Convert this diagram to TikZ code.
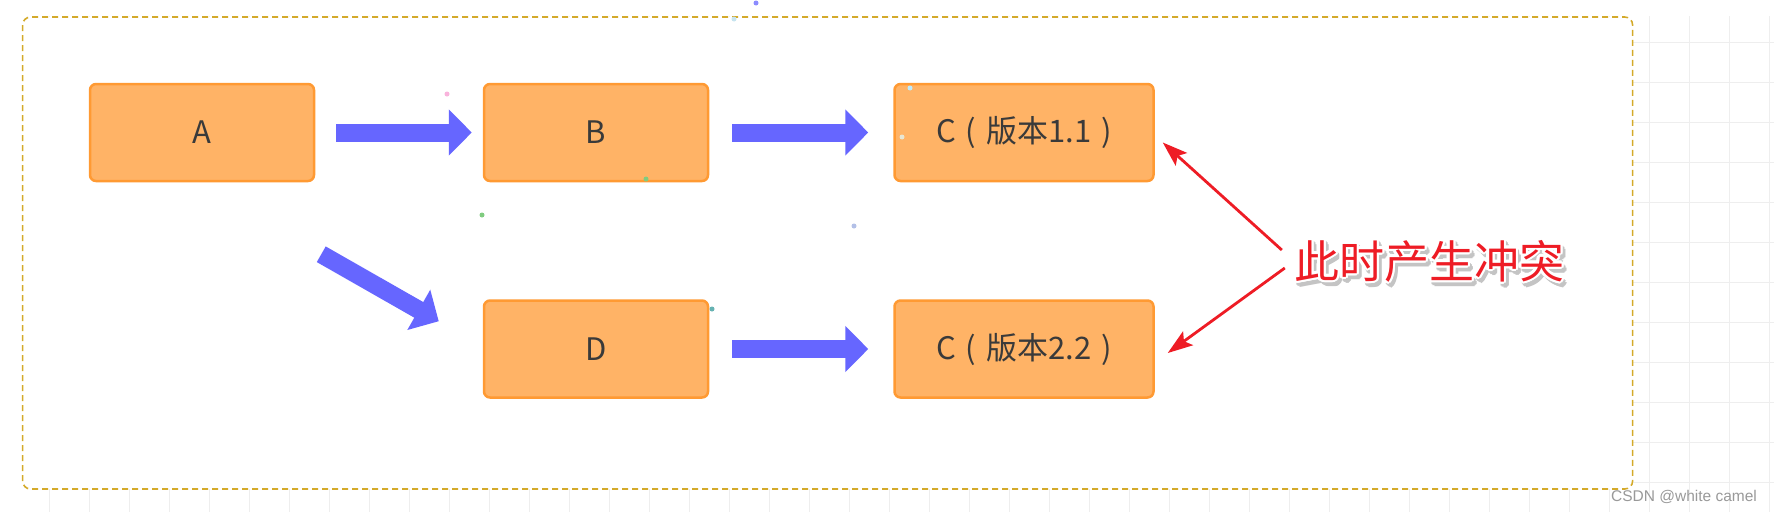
\documentclass[tikz,border=0pt]{standalone}
\usepackage{fontspec}
\setmainfont{Noto Sans CJK SC}
\newfontfamily\wmfont{Liberation Sans}
\usetikzlibrary{arrows.meta,calc}
\definecolor{boxfill}{HTML}{FFB366}
\definecolor{boxdraw}{HTML}{FF9A33}
\definecolor{blueA}{HTML}{6666FF}
\definecolor{redA}{HTML}{EE1C25}
\definecolor{frameC}{HTML}{D4AA2A}
\definecolor{gridC}{HTML}{EEEEEE}
\definecolor{txtC}{HTML}{3A3A3A}
\definecolor{shadowC}{HTML}{C4C4C4}
\newcommand{\pgap}{\hspace{10pt}}
\begin{document}
\begin{tikzpicture}[x=1pt,y=-1pt,
  box/.style={draw=boxdraw, fill=boxfill, line width=2.5pt, rounded corners=6pt,
    minimum width=224pt, minimum height=97pt, text=txtC, inner sep=0pt,
    font=\fontsize{31}{36}\selectfont},
  widebox/.style={box, minimum width=259pt},
  bigarrow/.style={draw=blueA, line width=18pt, -{Triangle[length=23pt,width=45pt]}},
  redarrow/.style={draw=redA, line width=2.8pt, -{Stealth[length=25pt,width=17pt,inset=5pt]}},
  conflict/.style={inner sep=0pt, font=\fontsize{45}{50}\selectfont},
  dot/.style={circle, inner sep=0pt, minimum size=5pt},
]
\useasboundingbox (0,0) rectangle (1774,512);
\fill[white] (0,0) rectangle (1774,512);
% background grid
\begin{scope}
  \clip (29,16) rectangle (1774,512);
  \foreach \x in {49,89,...,1769} \draw[gridC, line width=1pt] (\x,16) -- (\x,512);
  \foreach \y in {42,82,...,482} \draw[gridC, line width=1pt] (29,\y) -- (1774,\y);
\end{scope}
% frame
\fill[white, rounded corners=8pt] (22.6,17) rectangle (1632.6,489);
\draw[frameC, line width=1.6pt, dash pattern=on 6pt off 4pt, rounded corners=8pt]
  (22.6,17) rectangle (1632.6,489);

% boxes
\node[box] (A) at (202,132.5) {A};
\node[box] (B) at (596,132.5) {B};
\node[widebox] (C1) at (1024,132.5) {C\pgap{}(\pgap{}版本1.1\pgap{})};
\node[box] (D) at (596,349) {D};
\node[widebox] (C2) at (1024,349) {C\pgap{}(\pgap{}版本2.2\pgap{})};

% blue arrows
\draw[bigarrow, shorten <=21pt, shorten >=11pt] (A) -- (B);
\draw[bigarrow, shorten <=23pt, shorten >=25pt] (B) -- (C1);
\draw[bigarrow, shorten <=23pt, shorten >=25pt] (D) -- (C2);
\coordinate (ad1) at ($(A.south east)+(6,72)$);
\coordinate (ad2) at ($(D.north west)+(-44,22)$);
\draw[bigarrow] (ad1) -- (ad2);

% conflict label with shadow and white outline
\foreach \a in {0,45,...,315}
  \node[conflict, text=shadowC] at ($(1432,265)+(\a:2.5)$) {此时产生冲突};
\foreach \a in {0,22.5,...,337.5}
  \node[conflict, text=white] at ($(1429,261)+(\a:2.4)$) {此时产生冲突};
\node[conflict, text=redA] (txt) at (1429,261) {此时产生冲突};

% red arrows
\coordinate (r1) at ($(txt.west)+(-12,-11)$);
\coordinate (r2) at ($(txt.west)+(-9,7)$);
\coordinate (t1) at ($(C1.east)+(8,10)$);
\coordinate (t2) at ($(C2.east)+(13,4)$);
\draw[redarrow] (r1) -- (t1);
\draw[redarrow] (r2) -- (t2);

% confetti dots
\node[dot, fill=blue!45!white] (p1) at (756,3) {};
\node[dot, fill=gray!40!cyan!30] (p2) at (734,19) {};
\node[dot, fill=magenta!30] (p3) at (447,94) {};
\node[dot, fill=green!60!black!50] (p4) at (646,179) {};
\node[dot, fill=green!60!black!50] (p5) at (482,215) {};
\node[dot, fill=cyan!40!blue!30] (p6) at (854,226) {};
\node[dot, fill=teal!60] (p7) at (712,309) {};
\node[dot, fill=cyan!25] (p8) at (910,88) {};
\node[dot, fill=yellow!30!gray!30] (p9) at (902,137) {};

% watermark
\node[font={\wmfont\fontsize{15.5}{18}\selectfont}, text=gray!80] (wm) at (1684,497) {CSDN @white camel};
\end{tikzpicture}
\end{document}
